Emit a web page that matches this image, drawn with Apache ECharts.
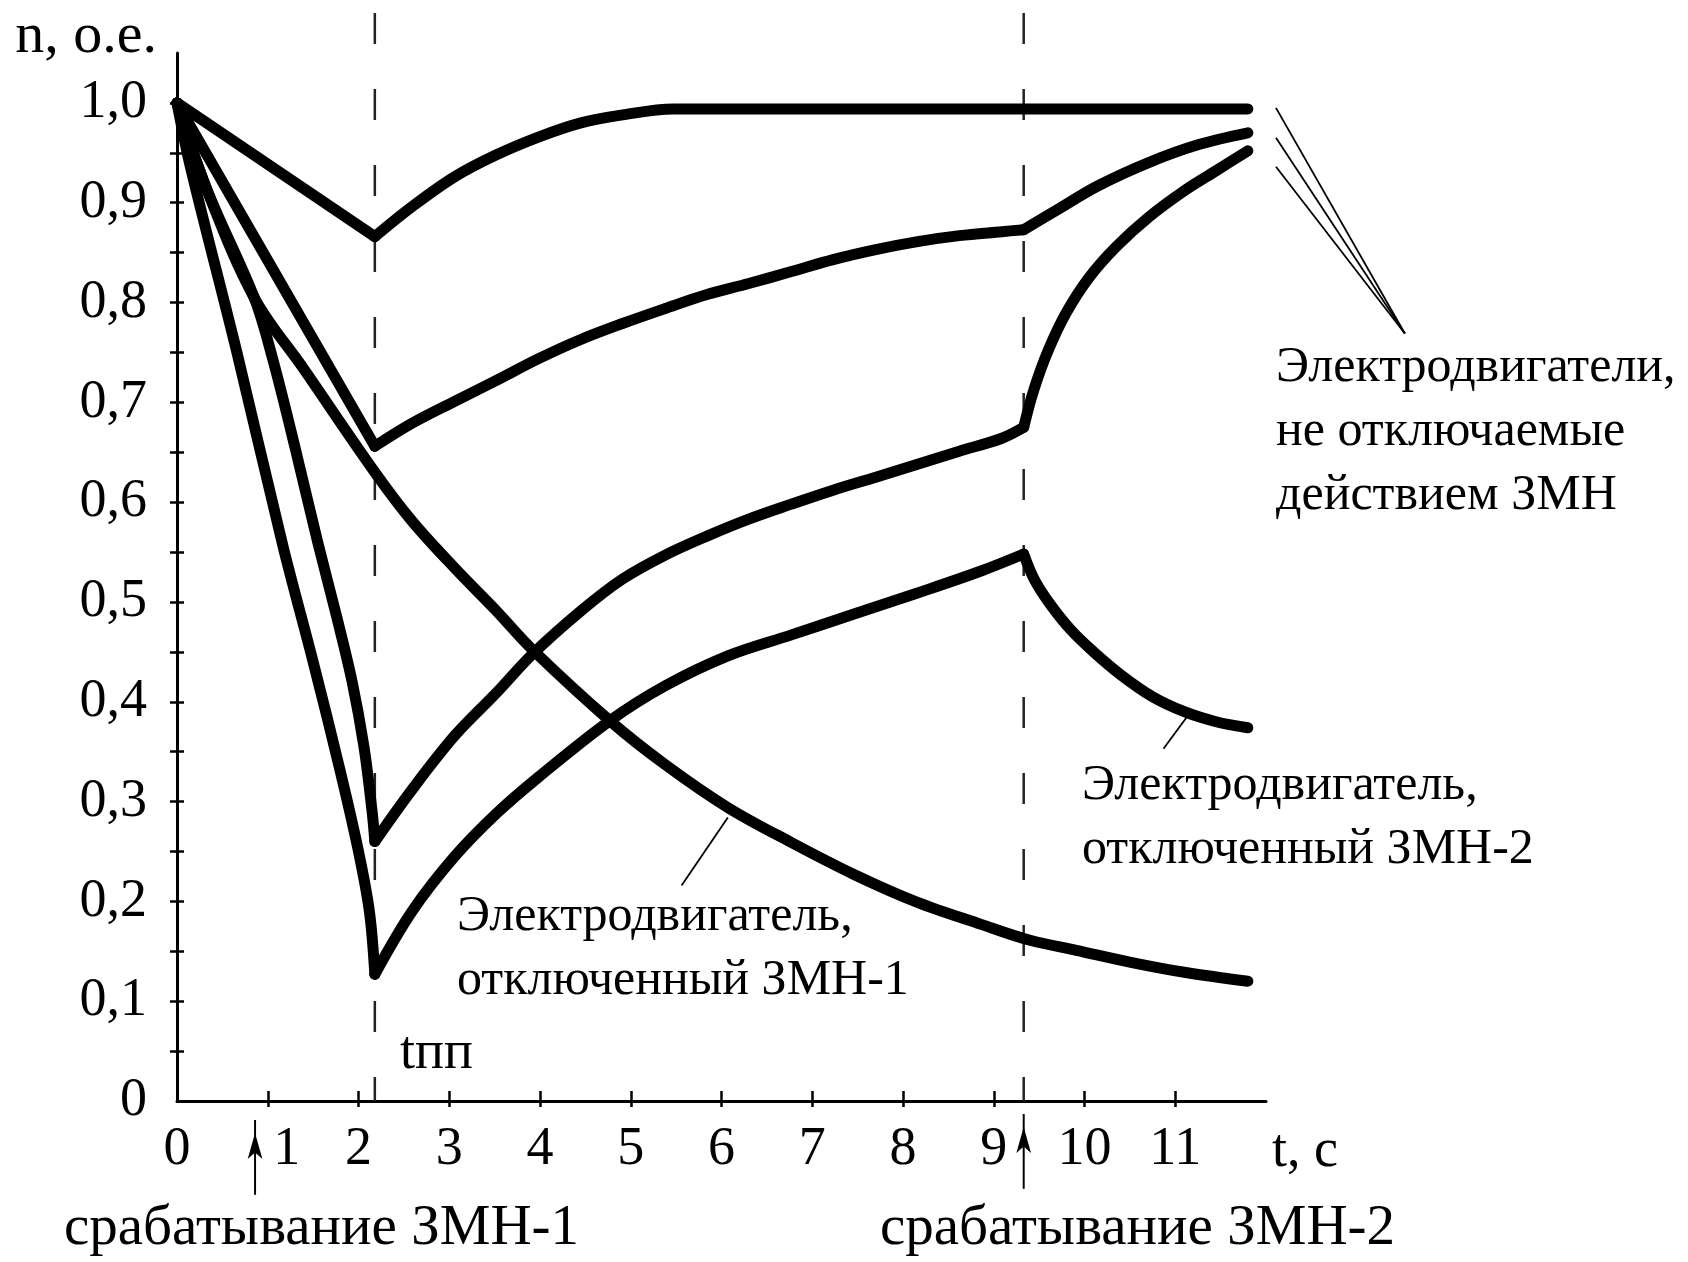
<!DOCTYPE html>
<html>
<head>
<meta charset="utf-8">
<title>n(t)</title>
<script src="https://cdn.jsdelivr.net/npm/echarts@6.0.0/dist/echarts.min.js"></script>
<style>
html, body { margin: 0; padding: 0; background: #fff; }
#chart { width: 1688px; height: 1262px; }
</style>
</head>
<body>
<div id="chart"></div>
<script>
// оси
const xLabels = [0, 1, 2, 3, 4, 5, 6, 7, 8, 9, 10, 11];
const xTicks = [1, 2, 3, 4, 5, 6, 7, 8, 9, 10, 11];
const yLabels = [0, 0.1, 0.2, 0.3, 0.4, 0.5, 0.6, 0.7, 0.8, 0.9, 1.0];
const yTicks = [0.05, 0.1, 0.15, 0.2, 0.25, 0.3, 0.35, 0.4, 0.45, 0.5, 0.55, 0.6, 0.65, 0.7, 0.75, 0.8, 0.85, 0.9, 0.95, 1.0];

// двигатели, не отключаемые ЗМН (t, n)
const fallA = [[0, 1.0], [2.18, 0.866]];
const riseA = [[2.18, 0.866], [2.59, 0.896], [3.06, 0.926], [3.52, 0.948], [3.99, 0.966], [4.45, 0.98], [4.91, 0.988], [5.47, 0.994], [11.8, 0.994]];
const fallB = [[0, 1.0], [2.18, 0.656]];
const riseB = [[2.18, 0.656], [2.59, 0.679], [3.06, 0.701], [3.52, 0.722], [3.99, 0.744], [4.45, 0.763], [4.91, 0.779], [5.38, 0.794], [5.84, 0.808], [6.3, 0.819], [6.77, 0.831], [7.23, 0.843], [7.7, 0.853], [8.16, 0.861], [8.62, 0.867], [9.09, 0.871], [9.33, 0.873]];
const recoverB = [[9.33, 0.873], [9.7, 0.893], [10.15, 0.917], [10.7, 0.94], [11.25, 0.958], [11.8, 0.97]];
const fallC = [[0, 1.0], [0.33, 0.913], [0.85, 0.805], [1.05, 0.745], [1.3, 0.655], [1.55, 0.56], [1.76, 0.485], [1.93, 0.42], [2.06, 0.355], [2.15, 0.29], [2.18, 0.26]];
const riseC = [[2.18, 0.26], [2.59, 0.312], [3.06, 0.366], [3.52, 0.409], [3.92, 0.448], [4.45, 0.491], [4.91, 0.523], [5.38, 0.547], [5.84, 0.566], [6.3, 0.583], [6.77, 0.598], [7.23, 0.612], [7.7, 0.625], [8.16, 0.638], [8.62, 0.651], [9.09, 0.664], [9.33, 0.675]];
const recoverC = [[9.33, 0.675], [9.44, 0.712], [9.6, 0.752], [9.8, 0.79], [10.05, 0.825], [10.35, 0.856], [10.7, 0.885], [11.1, 0.912], [11.45, 0.932], [11.8, 0.952]];

// двигатель, отключенный ЗМН-2
const fallD = [[0, 1.0], [0.15, 0.935], [0.66, 0.75], [1.17, 0.555], [1.5, 0.44], [1.8, 0.33], [2.0, 0.25], [2.12, 0.19], [2.18, 0.127]];
const riseD = [[2.18, 0.127], [2.59, 0.19], [3.06, 0.245], [3.52, 0.288], [3.99, 0.325], [4.77, 0.381], [5.38, 0.416], [6.07, 0.446], [6.77, 0.467], [7.46, 0.488], [8.16, 0.509], [8.86, 0.531], [9.33, 0.548]];
const dropD = [[9.33, 0.548], [9.45, 0.522], [9.62, 0.498], [9.85, 0.472], [10.1, 0.45], [10.4, 0.427], [10.75, 0.405], [11.1, 0.39], [11.45, 0.38], [11.8, 0.374]];

// двигатель, отключенный ЗМН-1
const motorE = [[0, 1.0], [0.33, 0.913], [0.85, 0.805], [1.4, 0.733], [2.18, 0.63], [2.59, 0.581], [3.06, 0.534], [3.52, 0.491], [3.92, 0.452], [4.77, 0.381], [5.38, 0.337], [6.07, 0.294], [6.77, 0.259], [7.46, 0.227], [8.16, 0.199], [8.86, 0.177], [9.4, 0.161], [9.91, 0.151], [10.51, 0.139], [11.1, 0.129], [11.8, 0.12]];

// tпп и срабатывание ЗМН-2 (пунктир), стрелки срабатывания
const dashT1 = [[2.18, 1.09], [2.18, 0]];
const dashT2 = [[9.33, 1.09], [9.33, 0]];
const arrow1 = [[0.86, -0.094], [0.86, -0.019]];
const arrow2 = [[9.33, -0.088], [9.33, -0.013]];

// выноски
const leaders = [
	[[12.11, 0.995], [13.53, 0.769]],
	[[12.11, 0.965], [13.53, 0.769]],
	[[12.11, 0.936], [13.53, 0.769]],
	[[11.13, 0.385], [10.87, 0.353]],
	[[6.07, 0.284], [5.56, 0.216]]
];

const FONT = '"Liberation Serif", "Times New Roman", serif';
const BLACK = "#000";

function curve(data, smooth) {
	return {
		type: "line",
		data: data,
		smooth: smooth ? 0.35 : false,
		symbol: "none",
		clip: false,
		silent: true,
		z: 4,
		lineStyle: { color: BLACK, width: 11, cap: "round", join: "round" }
	};
}

function dashed(data) {
	return {
		type: "line",
		data: data,
		symbol: "none",
		clip: false,
		silent: true,
		z: 2,
		lineStyle: { color: "#222", width: 2.5, type: [31, 45] }
	};
}

function arrow(data) {
	return {
		type: "line",
		clip: false,
		silent: true,
		showSymbol: true,
		z: 3,
		data: [
			{ value: data[0], symbol: "none" },
			{ value: data[1], symbol: "arrow", symbolSize: [11, 26], symbolOffset: [0, 13] }
		],
		itemStyle: { color: BLACK },
		lineStyle: { color: BLACK, width: 2 }
	};
}

const labelStyle = { fontFamily: FONT, fontSize: 54, color: BLACK };
const axisColor = { color: BLACK, width: 3 };
const tickColor = { color: BLACK, width: 2.5 };

const texts = [
	{ type: "text", left: 1276, top: 336, style: { text: "Электродвигатели,\nне отключаемые\nдействием ЗМН", font: "50px " + FONT, lineHeight: 64, fill: BLACK } },
	{ type: "text", left: 1082, top: 754, style: { text: "Электродвигатель,\nотключенный ЗМН-2", font: "50px " + FONT, lineHeight: 64, fill: BLACK } },
	{ type: "text", left: 457, top: 885, style: { text: "Электродвигатель,\nотключенный ЗМН-1", font: "50px " + FONT, lineHeight: 64, fill: BLACK } },
	{ type: "text", left: 400, top: 1027, style: { text: "tпп", font: "54px " + FONT, fill: BLACK } },
	{ type: "text", left: 64, top: 1201, style: { text: "срабатывание ЗМН-1", font: "57px " + FONT, fill: BLACK } },
	{ type: "text", left: 880, top: 1201, style: { text: "срабатывание ЗМН-2", font: "57px " + FONT, fill: BLACK } }
];

const series = [
	curve(fallA, false), curve(riseA, true),
	curve(fallB, false), curve(riseB, true), curve(recoverB, true),
	curve(fallC, true), curve(riseC, true), curve(recoverC, true),
	curve(fallD, true), curve(riseD, true), curve(dropD, true),
	curve(motorE, true),
	dashed(dashT1), dashed(dashT2),
	arrow(arrow1), arrow(arrow2)
];

const option = {
	animation: false,
	backgroundColor: "#fff",
	grid: { left: 177, right: 422, top: 53, bottom: 161, outerBoundsMode: "none" },
	xAxis: [
		{
			type: "value", min: 0, max: 12, position: "bottom",
			axisLine: { show: true, onZero: false, lineStyle: axisColor },
			axisTick: { show: true, inside: false, length: 6, customValues: xTicks, lineStyle: tickColor },
			axisLabel: {
				customValues: xLabels, margin: 22, ...labelStyle,
				formatter: function (v) { return v === 1 ? "{s|1}" : String(v); },
				rich: { s: { ...labelStyle, padding: [0, 0, 0, 38] } }
			},
			splitLine: { show: false },
			name: "t, с", nameLocation: "end", nameGap: 6,
			nameTextStyle: { ...labelStyle, align: "left", verticalAlign: "top", padding: [24, 0, 0, 0] }
		},
		{
			type: "value", min: 0, max: 12, position: "bottom",
			axisLine: { show: false },
			axisTick: { show: true, inside: true, length: 10, customValues: xTicks, lineStyle: tickColor },
			axisLabel: { show: false },
			splitLine: { show: false }
		}
	],
	yAxis: [
		{
			type: "value", min: 0, max: 1.05, position: "left",
			axisLine: { show: true, onZero: false, lineStyle: axisColor },
			axisTick: { show: true, inside: false, length: 7, customValues: yTicks, lineStyle: tickColor },
			axisLabel: {
				customValues: yLabels, margin: 30, ...labelStyle,
				formatter: function (v) { return v === 0 ? "0" : v.toFixed(1).replace(".", ","); }
			},
			splitLine: { show: false },
			name: "n, о.е.", nameLocation: "end", nameGap: 16,
			nameTextStyle: { ...labelStyle, fontSize: 58, align: "right", verticalAlign: "middle", padding: [0, 20, 0, 0] }
		},
		{
			type: "value", min: 0, max: 1.05, position: "left",
			axisLine: { show: false },
			axisTick: { show: true, inside: true, length: 7, customValues: yTicks, lineStyle: tickColor },
			axisLabel: { show: false },
			splitLine: { show: false }
		}
	],
	graphic: texts,
	series: series
};

const myChart = echarts.init(document.getElementById("chart"), null, { renderer: "canvas" });
myChart.setOption(option);

// выноски рисуем по координатам данных (часть из них правее оси t)
const leaderLines = leaders.map(function (seg) {
	const p0 = myChart.convertToPixel({ gridIndex: 0 }, seg[0]);
	const p1 = myChart.convertToPixel({ gridIndex: 0 }, seg[1]);
	return {
		type: "line",
		silent: true,
		z: 5,
		shape: { x1: p0[0], y1: p0[1], x2: p1[0], y2: p1[1] },
		style: { stroke: BLACK, lineWidth: 1.8 }
	};
});
myChart.setOption({ graphic: texts.concat(leaderLines) });
</script>
</body>
</html>
